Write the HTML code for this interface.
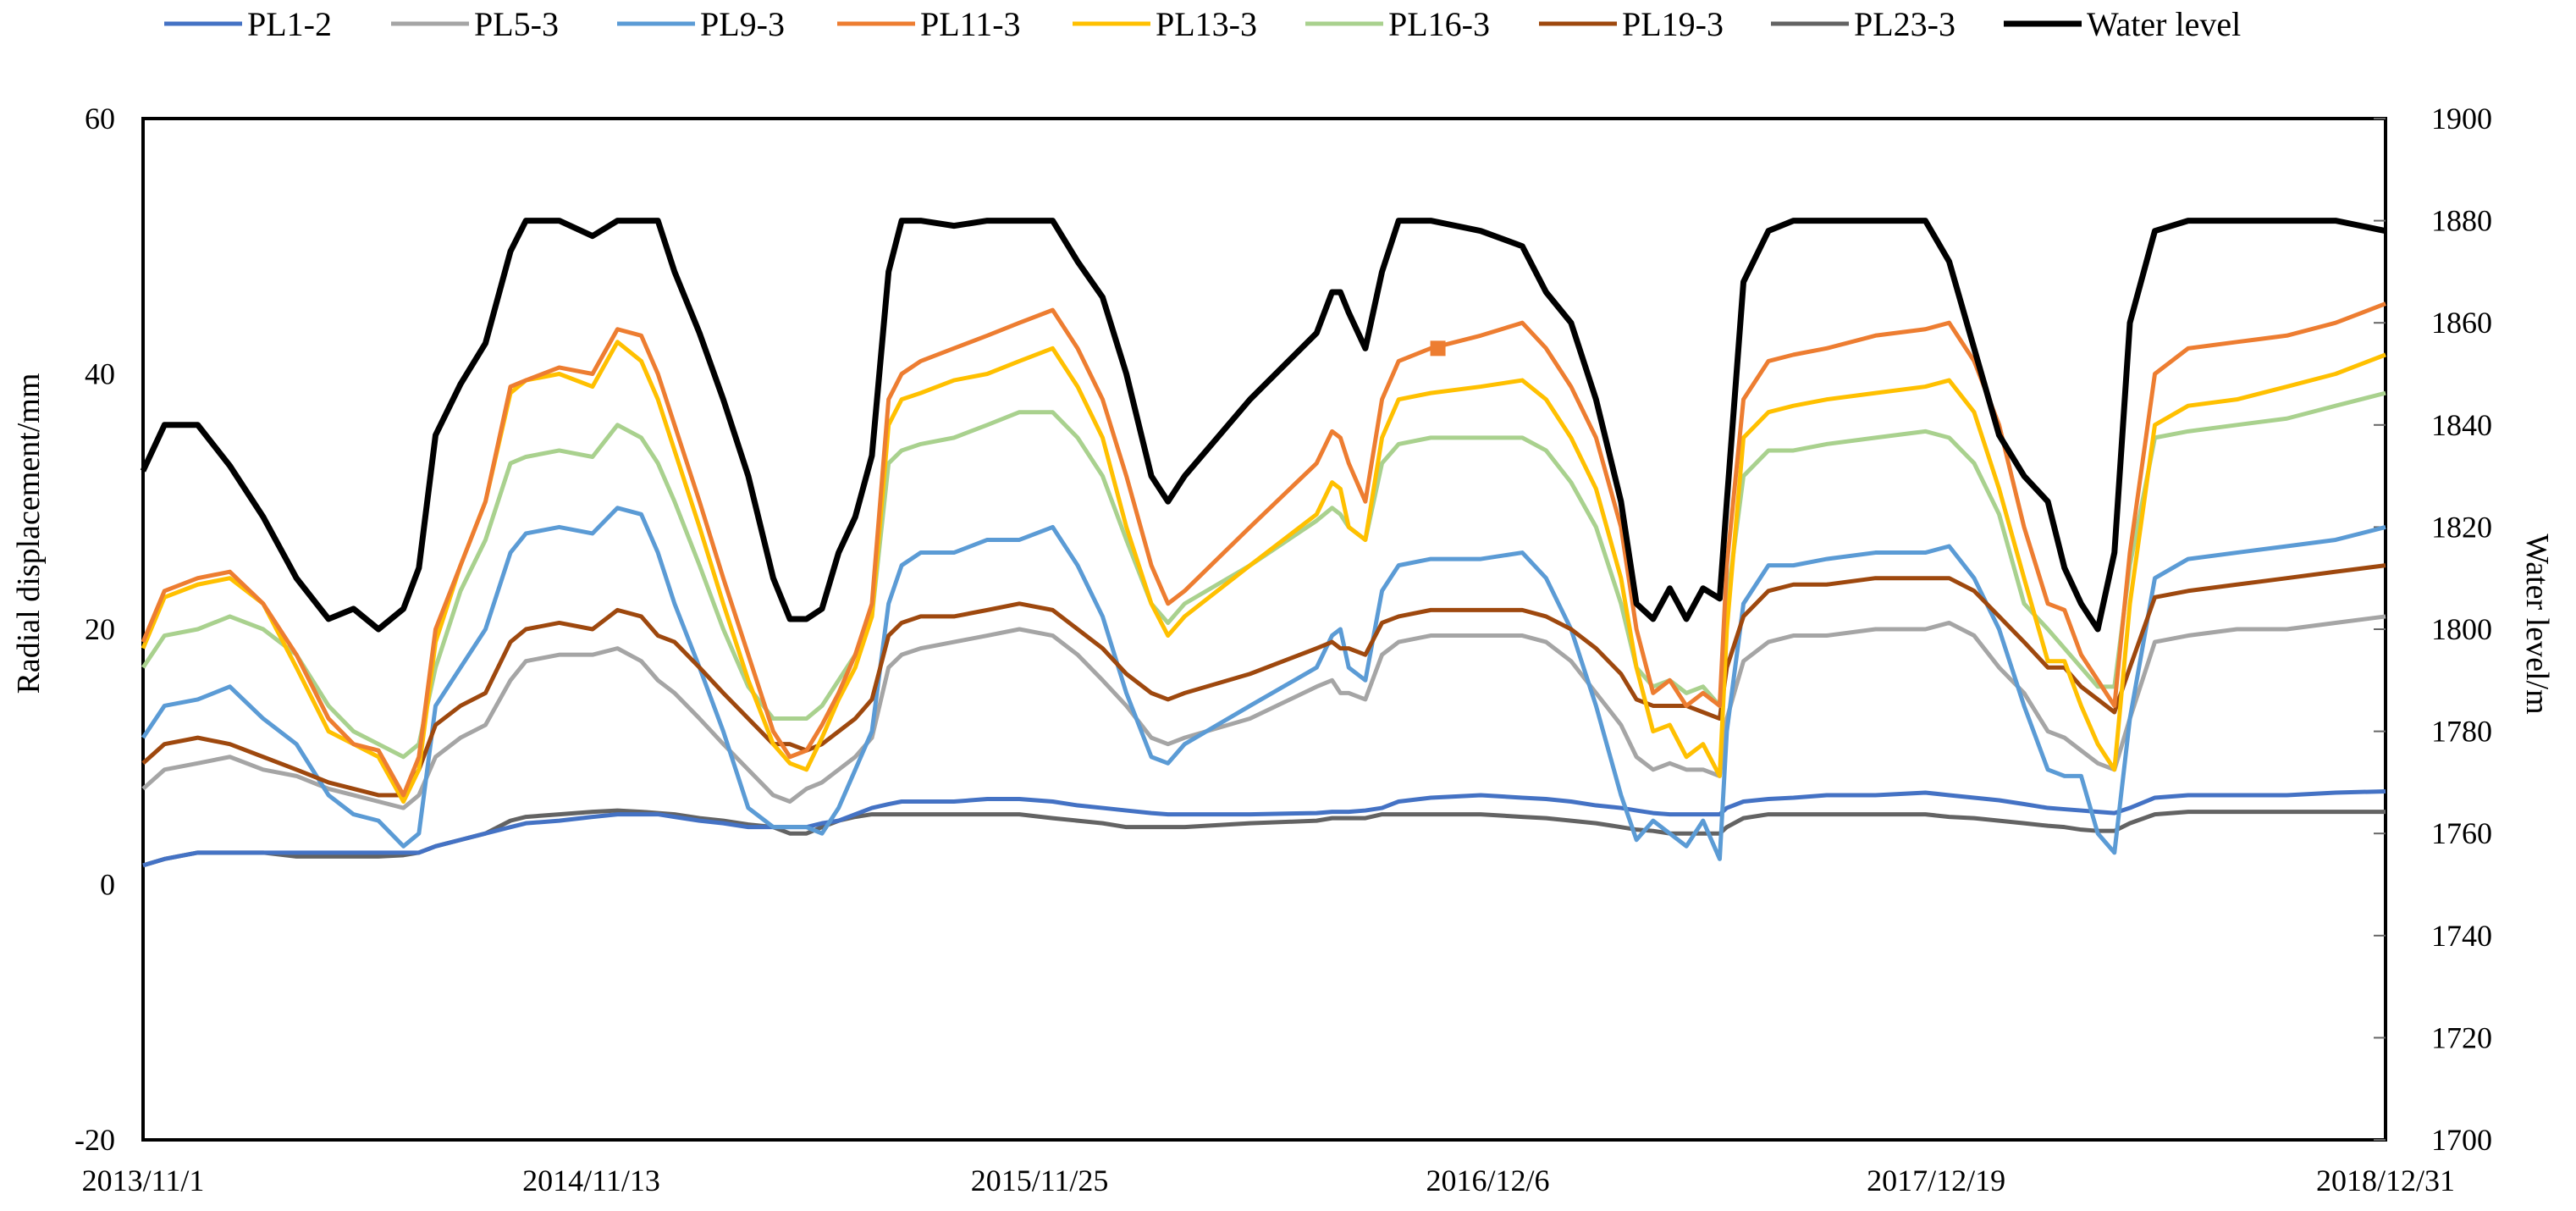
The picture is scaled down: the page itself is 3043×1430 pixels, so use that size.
<!DOCTYPE html>
<html><head><meta charset="utf-8"><style>
html,body{margin:0;padding:0;background:#fff;}
svg{display:block;font-family:"Liberation Serif",serif;}
</style></head><body>
<svg id="chart" width="3043" height="1430" viewBox="0 0 3043 1430"></svg>
<script>
const days=[0,18,46,73,101,129,156,177,198,219,232,246,267,288,309,322,350,378,399,419,433,447,468,488,509,530,544,558,571,585,599,613,627,638,654,682,710,737,765,786,807,827,848,862,876,931,987,1000,1007,1014,1028,1042,1056,1083,1125,1160,1180,1201,1222,1243,1256,1270,1284,1298,1312,1326,1332,1346,1367,1388,1416,1457,1499,1519,1540,1561,1582,1602,1616,1630,1644,1658,1671,1692,1720,1761,1803,1844,1886];
const waterLevel=[1831,1840,1840,1832,1822,1810,1802,1804,1800,1804,1812,1838,1848,1856,1874,1880,1880,1877,1880,1880,1880,1870,1858,1845,1830,1810,1802,1802,1804,1815,1822,1834,1870,1880,1880,1879,1880,1880,1880,1872,1865,1850,1830,1825,1830,1845,1858,1866,1866,1862,1855,1870,1880,1880,1878,1875,1866,1860,1845,1825,1805,1802,1808,1802,1808,1806,1825,1868,1878,1880,1880,1880,1880,1872,1855,1838,1830,1825,1812,1805,1800,1815,1860,1878,1880,1880,1880,1880,1878];
const pl11=[19,23,24,24.5,22,18,13,11,10.5,7,10,20,25,30,39,39.5,40.5,40,43.5,43,40,36,30,24,18,12,10,10.5,12.5,15,18,22,38,40,41,42,43,44,45,42,38,32,25,22,23,28,33,35.5,35,33,30,38,41,42,43,44,42,39,35,28,20,15,16,14,15,14,25,38,41,41.5,42,43,43.5,44,41,36,28,22,21.5,18,16,14,26,40,42,42.5,43,44,45.5];
const pl13=[18.5,22.5,23.5,24,22,17,12,11,10,6.5,9,19,25,30,38.5,39.5,40,39,42.5,41,38,34,28,22,16,11,9.5,9,11.5,14.5,17,21,36,38,38.5,39.5,40,41,42,39,35,28,22,19.5,21,25,29,31.5,31,28,27,35,38,38.5,39,39.5,38,35,31,24,17,12,12.5,10,11,8.5,20,35,37,37.5,38,38.5,39,39.5,37,31,24,17.5,17.5,14,11,9,22,36,37.5,38,39,40,41.5];
const pl16=[17,19.5,20,21,20,18,14,12,11,10,11,17,23,27,33,33.5,34,33.5,36,35,33,30,25,20,15.5,13,13,13,14,16,18,21,33,34,34.5,35,36,37,37,35,32,27,22,20.5,22,25,28.5,29.5,29,28,27,33,34.5,35,35,35,34,31.5,28,22,17,15.5,16,15,15.5,14,22,32,34,34,34.5,35,35.5,35,33,29,22,20,18.5,17,15.5,15.5,25,35,35.5,36,36.5,37.5,38.5];
const pl19=[9.5,11,11.5,11,10,9,8,7.5,7,7,9,12.5,14,15,19,20,20.5,20,21.5,21,19.5,19,17,15,13,11,11,10.5,11,12,13,14.5,19.5,20.5,21,21,21.5,22,21.5,20,18.5,16.5,15,14.5,15,16.5,18.5,19,18.5,18.5,18,20.5,21,21.5,21.5,21.5,21,20,18.5,16.5,14.5,14,14,14,13.5,13,17,21,23,23.5,23.5,24,24,24,23,21,19,17,17,15.5,14.5,13.5,17,22.5,23,23.5,24,24.5,25];
const pl5=[7.5,9,9.5,10,9,8.5,7.5,7,6.5,6,7,10,11.5,12.5,16,17.5,18,18,18.5,17.5,16,15,13,11,9,7,6.5,7.5,8,9,10,11.5,17,18,18.5,19,19.5,20,19.5,18,16,14,11.5,11,11.5,13,15.5,16,15,15,14.5,18,19,19.5,19.5,19.5,19,17.5,15,12.5,10,9,9.5,9,9,8.5,13,17.5,19,19.5,19.5,20,20,20.5,19.5,17,15,12,11.5,10.5,9.5,9,13,19,19.5,20,20,20.5,21];
const pl9=[11.5,14,14.5,15.5,13,11,7,5.5,5,3,4,14,17,20,26,27.5,28,27.5,29.5,29,26,22,17,12,6,4.5,4.5,4.5,4,6,9,12,22,25,26,26,27,27,28,25,21,15,10,9.5,11,14,17,19.5,20,17,16,23,25,25.5,25.5,26,24,20,14,7,3.5,5,4,3,5,2,12,22,25,25,25.5,26,26,26.5,24,20,14,9,8.5,8.5,4,2.5,13,24,25.5,26,26.5,27,28];
const pl1=[1.5,2,2.5,2.5,2.5,2.5,2.5,2.5,2.5,2.5,2.5,3,3.5,4,4.5,4.8,5,5.3,5.5,5.5,5.5,5.3,5,4.8,4.5,4.5,4.5,4.5,4.8,5,5.5,6,6.3,6.5,6.5,6.5,6.7,6.7,6.5,6.2,6,5.8,5.6,5.5,5.5,5.5,5.6,5.7,5.7,5.7,5.8,6,6.5,6.8,7,6.8,6.7,6.5,6.2,6,5.8,5.6,5.5,5.5,5.5,5.5,6,6.5,6.7,6.8,7,7,7.2,7,6.8,6.6,6.3,6,5.9,5.8,5.7,5.6,6,6.8,7,7,7,7.2,7.3];
const pl23=[1.5,2,2.5,2.5,2.5,2.2,2.2,2.2,2.2,2.3,2.5,3,3.5,4,5,5.3,5.5,5.7,5.8,5.7,5.6,5.5,5.2,5,4.7,4.5,4,4,4.5,5,5.3,5.5,5.5,5.5,5.5,5.5,5.5,5.5,5.2,5,4.8,4.5,4.5,4.5,4.5,4.8,5,5.2,5.2,5.2,5.2,5.5,5.5,5.5,5.5,5.3,5.2,5,4.8,4.5,4.3,4.2,4,4,4,4,4.5,5.2,5.5,5.5,5.5,5.5,5.5,5.3,5.2,5,4.8,4.6,4.5,4.3,4.2,4.2,4.8,5.5,5.7,5.7,5.7,5.7,5.7];
const markerDay=[1089]; const markerVal=[42];
const leftTicks=[-20,0,20,40,60];
const rightTicks=[1700,1720,1740,1760,1780,1800,1820,1840,1860,1880,1900];
const xTickDays=[0,377,754,1131,1508,1886];
const xTickLabels=["2013/11/1","2014/11/13","2015/11/25","2016/12/6","2017/12/19","2018/12/31"];
const seriesNames=["PL1-2","PL5-3","PL9-3","PL11-3","PL13-3","PL16-3","PL19-3","PL23-3","Water level"];

const L=169,R=2818,T=140,B=1346;
const xS=d=>L+d/1886*(R-L);
const yL=v=>B-(v+20)/80*(B-T);
const yR=v=>B-(v-1700)/200*(B-T);
const svg=document.getElementById('chart');
const NS='http://www.w3.org/2000/svg';
function mk(tag,attrs,parent){const e=document.createElementNS(NS,tag);for(const k in attrs)e.setAttribute(k,attrs[k]);(parent||svg).appendChild(e);return e;}

// frame
let e=mk('rect',{x:L,y:T,width:R-L,height:B-T,fill:'none',stroke:'#000','stroke-width':4});



leftTicks.forEach(v=>{
  const t=mk('text',{x:136,y:yL(v)+12,'text-anchor':'end','font-size':36,fill:'#000'});t.textContent=v;
  
  
});
rightTicks.forEach(v=>{
  const l=mk('line',{x1:R-14,x2:R,y1:yR(v),y2:yR(v),stroke:'#666','stroke-width':2});
  
  
  const t=mk('text',{x:2872,y:yR(v)+12,'font-size':36,fill:'#000'});t.textContent=v;
  
  
});
xTickDays.forEach((d,i)=>{
  const t=mk('text',{x:xS(d),y:1406,'text-anchor':'middle','font-size':36,fill:'#000'});t.textContent=xTickLabels[i];
  
  
});
let yt=mk('text',{x:0,y:0,'text-anchor':'middle','font-size':38,transform:'translate(46,630) rotate(-90)'});yt.textContent='Radial displacement/mm';


let yt2=mk('text',{x:0,y:0,'text-anchor':'middle','font-size':38,transform:'translate(2985,737) rotate(90)'});yt2.textContent='Water level/m';



const series=[
 {n:'pl1-2',d:pl1,c:'#4472C4'},{n:'pl5-3',d:pl5,c:'#A5A5A5'},{n:'pl9-3',d:pl9,c:'#5B9BD5'},
 {n:'pl11-3',d:pl11,c:'#ED7D31'},{n:'pl13-3',d:pl13,c:'#FFC000'},{n:'pl16-3',d:pl16,c:'#A9D18E'},
 {n:'pl19-3',d:pl19,c:'#9E480E'},{n:'pl23-3',d:pl23,c:'#636363'}];
const order=[7,0,1,2,6,5,4,3];
order.forEach(i=>{const s=series[i];
  const p=mk('polyline',{points:days.map((d,j)=>xS(d)+','+yL(s.d[j])).join(' '),fill:'none',stroke:s.c,'stroke-width':5,'stroke-linejoin':'round'});
  
  
});
markerDay.forEach((d,i)=>{
  const m=mk('rect',{x:xS(d)-9,y:yL(markerVal[i])-9,width:18,height:18,fill:'#ED7D31'});
  
  
});
const w=mk('polyline',{points:days.map((d,j)=>xS(d)+','+yR(waterLevel[j])).join(' '),fill:'none',stroke:'#000','stroke-width':7,'stroke-linejoin':'round'});



// legend
const legX=[194,462,729,989,1267,1542,1818,2092,2367];
const legC=['#4472C4','#A5A5A5','#5B9BD5','#ED7D31','#FFC000','#A9D18E','#9E480E','#636363','#000'];
seriesNames.forEach((n,i)=>{
  const g=mk('g',{});
  
  
  mk('line',{x1:legX[i],x2:legX[i]+92,y1:28,y2:28,stroke:legC[i],'stroke-width':i==8?7:5},g);
  const t=mk('text',{x:legX[i]+98,y:42,'font-size':40,fill:'#000'},g);t.textContent=n;
});
</script>
</body></html>
